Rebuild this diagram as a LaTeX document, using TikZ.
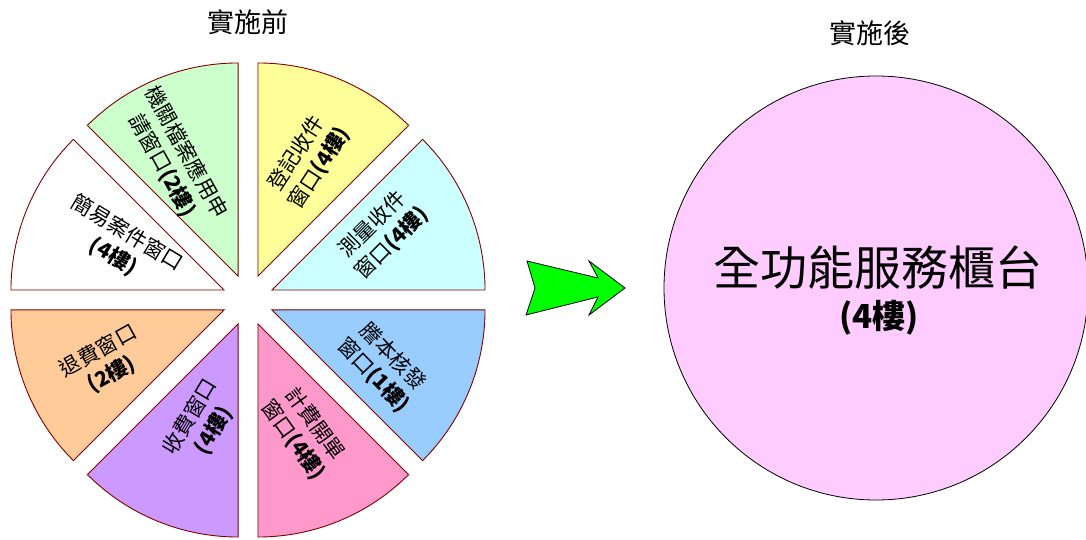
\documentclass[tikz,border=0pt]{standalone}
\usepackage{fontspec}
\setmainfont{Noto Sans CJK TC}
\usetikzlibrary{positioning,calc}
\definecolor{edge}{HTML}{800000}
\definecolor{wgreen}{HTML}{CCFFCC}
\definecolor{wyellow}{HTML}{FFFF99}
\definecolor{wcyan}{HTML}{CCFFFF}
\definecolor{wblue}{HTML}{99CCFF}
\definecolor{wpink}{HTML}{FF99CC}
\definecolor{wpurple}{HTML}{CC99FF}
\definecolor{worange}{HTML}{FFCC99}
\definecolor{arrowgreen}{HTML}{00FF00}
\definecolor{cpink}{HTML}{FFCCFF}

\begin{document}
\begin{tikzpicture}[x=1pt,y=1pt,
    lbl/.style={align=center, inner sep=0, font=\fontsize{21}{27}\selectfont},
    ttl/.style={inner sep=0, font=\fontsize{27}{30}\selectfont}]
    \useasboundingbox (0,0) rectangle (1086,540);

    % Before: exploded pie of counters
    \node[ttl] (before) at (248,518) {實施前};
    \coordinate (ctr) at (248,240);
    \foreach \b/\col in {112.5/wgreen, 67.5/wyellow, 22.5/wcyan, -22.5/wblue, -67.5/wpink, -112.5/wpurple, -157.5/worange, 157.5/white} {
        \draw[draw=edge, fill=\col, line width=0.9] ($(ctr)+(\b:26)$) -- ++(\b-22.5:213) arc[start angle=\b-22.5, end angle=\b+22.5, radius=213] -- cycle;
    }
    \node[lbl, rotate=-61] (archive) at (174,381) {機關檔案應用申\\請窗口\textbf{(2樓)}};
    \node[lbl, rotate=57] (register) at (308,379) {登記收件\\窗口\textbf{(4樓)}};
    \node[lbl, rotate=45] (survey) at (382,306) {測量收件\\窗口\textbf{(4樓)}};
    \node[lbl, rotate=-46] (copies) at (383,174) {謄本核發\\窗口\textbf{(1樓)}};
    \node[lbl, rotate=-54] (billing) at (304,108) {計費開單\\窗口\textbf{(4樓)}};
    \node[lbl, rotate=59] (payment) at (202,116) {收費窗口\\\textbf{(4樓)}};
    \node[lbl, rotate=29] (refund) at (105,177) {退費窗口\\\textbf{(2樓)}};
    \node[lbl, rotate=-31] (simple) at (120,295) {簡易案件窗口\\\textbf{(4樓)}};

    % Arrow
    \draw[fill=arrowgreen, line width=0.8] (527,279) -- (535,252) -- (526,225) -- (598,243) -- (589,225) -- (625,252) -- (589,279) -- (598,262) -- cycle;

    % After: one full-service counter
    \node[ttl] (after) at (870,507) {實施後};
    \node[circle, draw, fill=cpink, line width=0.8, minimum size=424, inner sep=0] (counter) at (876,252) {};
    \node[inner sep=0, font=\fontsize{47}{50}\selectfont] (fullname) at (878,272) {全功能服務櫃台};
    \node[inner sep=0, font=\fontsize{33}{36}\selectfont\bfseries] (floor) at (879,222) {(4樓)};
\end{tikzpicture}
\end{document}
